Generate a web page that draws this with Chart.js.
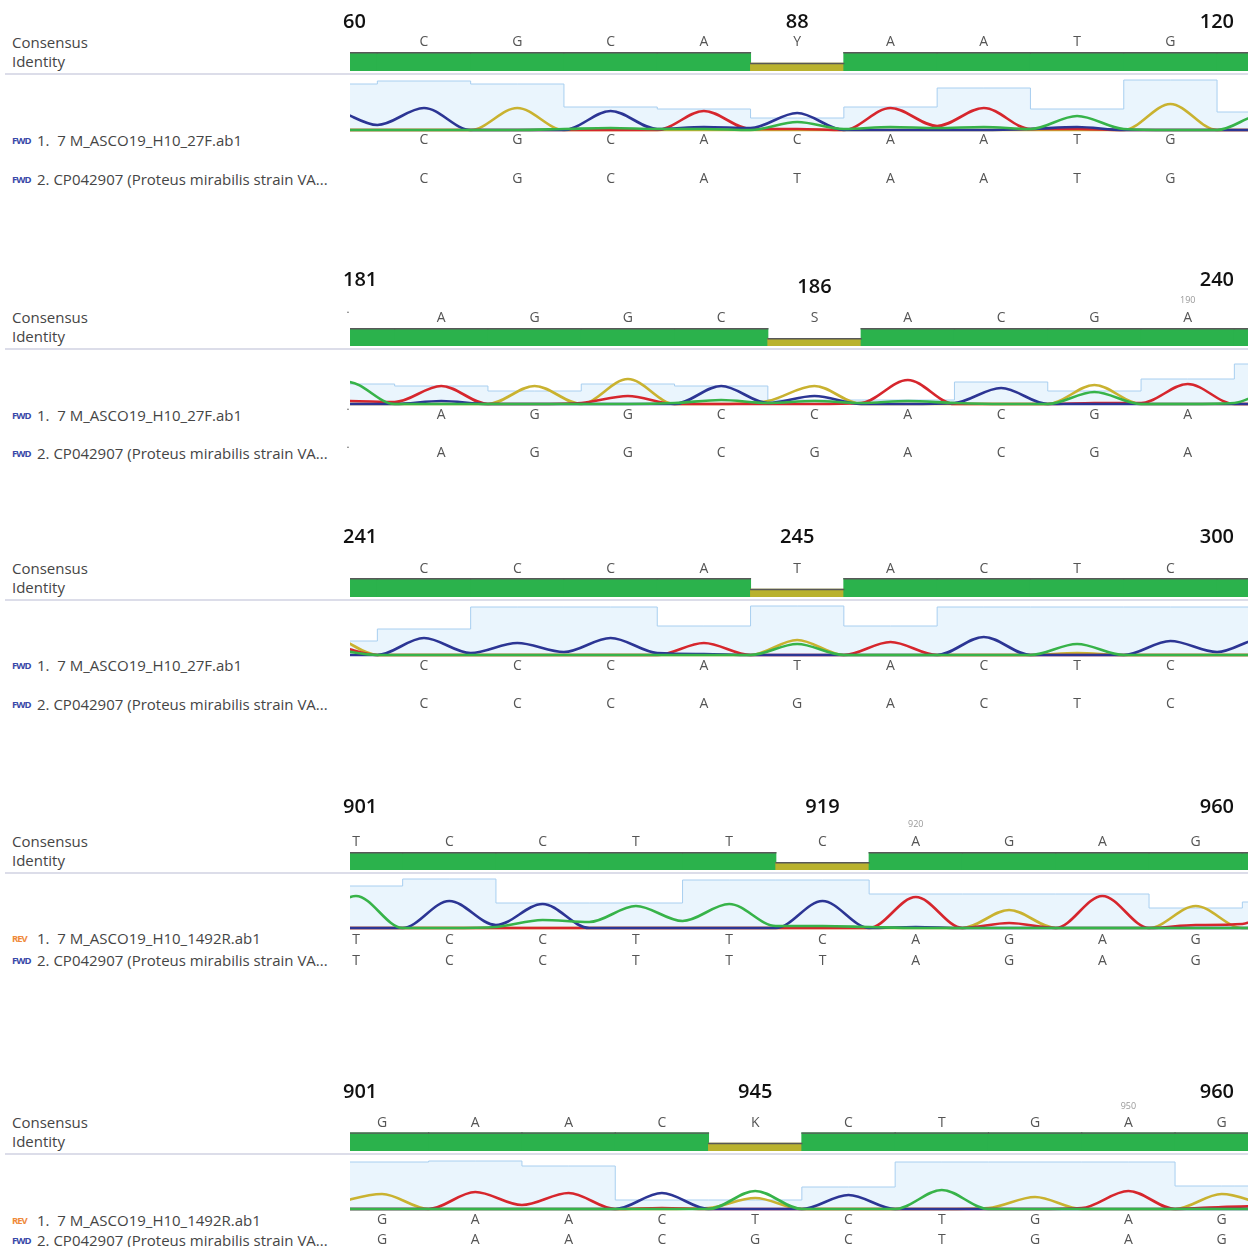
<!DOCTYPE html>
<html><head><meta charset="utf-8">
<script src="https://cdn.jsdelivr.net/npm/chart.js@4/dist/chart.umd.min.js"></script>
<style>
html,body{margin:0;padding:0;background:#fff;}
body{width:1248px;height:1247px;position:relative;overflow:hidden;font-family:"Open Sans",sans-serif;}
.lbl{position:absolute;left:12px;font-size:15px;color:#454545;line-height:20px;white-space:pre;}
.tag{display:inline-block;font-size:9.5px;font-weight:700;letter-spacing:-1px;width:25px;vertical-align:2px;}
.fwd{color:#3848a8;}
.rev{color:#ef8a3a;}
.sep{position:absolute;left:5px;width:1243px;height:2px;background:#dcdde9;}
</style></head><body>
<script>
// ---------- DATA ----------
const readNames = ['7 M_ASCO19_H10_27F.ab1','7 M_ASCO19_H10_27F.ab1','7 M_ASCO19_H10_27F.ab1','7 M_ASCO19_H10_1492R.ab1','7 M_ASCO19_H10_1492R.ab1'];
const readDirs = ['FWD','FWD','FWD','REV','REV'];
const refName = 'CP042907 (Proteus mirabilis strain VA...';

// panel 1
const p1Header = ['60','88','120'];
const p1Consensus = ['','C','G','C','A','Y','A','A','T','G',''];
const p1Read      = ['','C','G','C','A','C','A','A','T','G',''];
const p1Ref       = ['','C','G','C','A','T','A','A','T','G',''];
const p1Identity  = [1,1,1,1,1,0.44,1,1,1,1,1];
const p1Quality   = [46,49,46,23,21,12,23,42,21,50,18];
const p1TraceA = [0,0,0,0,0,0,0,0,0,19,1,1,0,22,4,22,1,1,0,0,0,0,0];
const p1TraceC = [0,20,5,22,0,0,0,19,1,3,2,17,0,0,0,0,1,3,0,0,0,0,0];
const p1TraceG = [0,0,0,0,0,22,0,0,0,0,0,0,0,0,0,0,0,0,0,26,0,0,0];
const p1TraceT = [0,0,0,0,0,0,1,2,1,1,0,8,1,3,2,3,1,14,1,0,0,16,0];

// panel 2
const p2Header = ['181','186','240'];
const p2Consensus = ['˙','A','G','G','C','S','A','C','G','A',''];
const p2Read      = ['˙','A','G','G','C','C','A','C','G','A',''];
const p2Ref       = ['˙','A','G','G','C','G','A','C','G','A',''];
const p2Identity  = [1,1,1,1,1,0.44,1,1,1,1,1];
const p2Quality   = [20,18,13,20,18,4,4,22,13,25,40];
const p2TraceA = [0,3,2,18,0,0,1,8,0,0,0,0,1,24,0,0,0,1,1,20,0,0,0];
const p2TraceC = [0,0,0,3,0,0,0,0,0,18,1,8,0,0,1,16,0,0,0,0,0,0,0];
const p2TraceG = [0,0,0,0,0,18,0,25,0,0,3,18,0,0,0,0,0,19,0,0,0,0,0];
const p2TraceT = [0,22,0,0,0,0,0,0,1,4,1,3,1,3,1,0,0,12,0,0,1,18,0];
const p2Mark = ['190', 9];

// panel 3
const p3Header = ['241','245','300'];
const p3Consensus = ['','C','C','C','A','T','A','C','T','C',''];
const p3Read      = ['','C','C','C','A','T','A','C','T','C',''];
const p3Ref       = ['','C','C','C','A','G','A','C','T','C',''];
const p3Identity  = [1,1,1,1,1,0.44,1,1,1,1,1];
const p3Quality   = [14,26,48,48,29,49,29,48,48,48,48];
const p3TraceA = [0,9,0,0,0,0,0,0,0,12,0,0,0,13,0,0,0,0,0,0,0,0,0];
const p3TraceC = [0,0,0,17,2,12,3,17,2,1,0,0,0,0,0,18,0,0,0,14,3,17,0];
const p3TraceG = [0,18,0,0,0,0,0,0,0,0,0,15,0,0,0,0,0,2,0,0,0,0,0];
const p3TraceT = [0,5,0,0,0,0,0,0,0,0,0,11,0,0,0,0,0,11,0,0,0,0,0];

// panel 4
const p4Header = ['901','919','960'];
const p4Consensus = ['T','C','C','T','T','C','A','G','A','G',''];
const p4Read      = ['T','C','C','T','T','C','A','G','A','G',''];
const p4Ref       = ['T','C','C','T','T','T','A','G','A','G',''];
const p4Identity  = [1,1,1,1,1,0.44,1,1,1,1,1];
const p4Quality   = [42,49,25,25,48,48,34,34,34,20,26];
const p4TraceA = [0,0,0,0,0,0,0,0,0,0,0,0,0,31,0,5,0,32,0,3,4,30,0];
const p4TraceC = [0,0,0,27,3,24,0,0,0,0,0,27,0,1,0,0,0,0,0,0,0,0,0];
const p4TraceG = [0,0,0,0,0,0,0,0,0,0,0,0,0,0,0,18,0,0,0,22,0,0,0];
const p4TraceT = [0,32,0,0,1,8,6,22,7,24,2,2,1,0,0,0,0,0,0,0,0,0,0];
const p4Mark = ['920', 6];

// panel 5
const p5Header = ['901','945','960'];
const p5Consensus = ['G','A','A','C','K','C','T','G','A','G'];
const p5Read      = ['G','A','A','C','T','C','T','G','A','G'];
const p5Ref       = ['G','A','A','C','G','C','T','G','A','G'];
const p5Identity  = [1,1,1,1,0.44,1,1,1,1,1];
const p5Quality   = [47,48,43,9,9,22,47,47,47,23];
const p5TraceA = [0,0,0,17,4,16,0,1,0,0,0,0,0,0,0,0,1,18,0,2,3];
const p5TraceC = [0,0,0,0,0,0,0,16,0,0,0,14,0,0,0,0,0,0,0,0,0];
const p5TraceG = [6,15,0,0,0,0,0,0,1,11,0,0,0,0,1,12,0,0,0,15,3];
const p5TraceT = [0,0,0,0,0,0,0,0,0,18,0,0,0,19,0,0,0,0,0,0,0];
const p5Mark = ['950', 8];

// ---------- LAYOUT ----------
const COL_W = 93.3, PLOT_L = 350, PLOT_R = 1248, CANVAS_L = 330;
const TRACE_H = 56, BASE_PAD = 1.5, EDGE_PX = 1.5;
const traceColors = {A:'#d6262d', C:'#2c3594', G:'#c9b230', T:'#37b349'};
const FONT = '"Open Sans", sans-serif';

const panels = [
 {header:p1Header, midCol:5, cons:p1Consensus, read:p1Read, ref:p1Ref, ident:p1Identity, qual:p1Quality,
  tr:{A:p1TraceA,C:p1TraceC,G:p1TraceG,T:p1TraceT}, mark:null,
  L:{col0X:330.7, headerY:22, midY:22, markY:0, consY:42, idTop:52, idBot:71, sepY:73, base:130, readY:140, refY:179, consLblY:42, idLblY:61, readLblY:140, refLblY:179}},
 {header:p2Header, midCol:5, cons:p2Consensus, read:p2Read, ref:p2Ref, ident:p2Identity, qual:p2Quality,
  tr:{A:p2TraceA,C:p2TraceC,G:p2TraceG,T:p2TraceT}, mark:p2Mark,
  L:{col0X:348, headerY:280, midY:287, markY:300, consY:318, idTop:328, idBot:346, sepY:348, base:404.3, readY:415, refY:453.5, consLblY:317, idLblY:336, readLblY:415, refLblY:453}},
 {header:p3Header, midCol:5, cons:p3Consensus, read:p3Read, ref:p3Ref, ident:p3Identity, qual:p3Quality,
  tr:{A:p3TraceA,C:p3TraceC,G:p3TraceG,T:p3TraceT}, mark:null,
  L:{col0X:330.7, headerY:537, midY:537, markY:0, consY:569, idTop:578, idBot:597, sepY:599, base:655, readY:666, refY:704, consLblY:568, idLblY:587, readLblY:665, refLblY:704}},
 {header:p4Header, midCol:5, cons:p4Consensus, read:p4Read, ref:p4Ref, ident:p4Identity, qual:p4Quality,
  tr:{A:p4TraceA,C:p4TraceC,G:p4TraceG,T:p4TraceT}, mark:p4Mark,
  L:{col0X:356, headerY:807, midY:807, markY:824, consY:842, idTop:852, idBot:870, sepY:872, base:928.3, readY:940, refY:961.5, consLblY:841, idLblY:860, readLblY:938, refLblY:960}},
 {header:p5Header, midCol:4, cons:p5Consensus, read:p5Read, ref:p5Ref, ident:p5Identity, qual:p5Quality,
  tr:{A:p5TraceA,C:p5TraceC,G:p5TraceG,T:p5TraceT}, mark:p5Mark,
  L:{col0X:382, headerY:1092, midY:1092, markY:1106, consY:1123, idTop:1132.3, idBot:1151, sepY:1153, base:1209.3, readY:1220, refY:1240, consLblY:1122, idLblY:1141, readLblY:1220, refLblY:1240}}
];

function makeCanvas(left, top, w, h){
  const c = document.createElement('canvas');
  c.width = w; c.height = h;
  c.style.cssText = `position:absolute;left:${left}px;top:${top}px;width:${w}px;height:${h}px;`;
  document.body.appendChild(c);
  return c;
}
function addLabel(html, y){
  const d = document.createElement('div');
  d.className = 'lbl';
  d.style.top = (y - 10) + 'px';
  d.innerHTML = html;
  document.body.appendChild(d);
}
const baseOpts = {responsive:false, animation:false, events:[], devicePixelRatio:1,
  plugins:{legend:{display:false}, tooltip:{enabled:false}}};

panels.forEach((p, pi) => {
  const L = p.L;
  const xr = {min:(PLOT_L - L.col0X)/COL_W, max:(PLOT_R - L.col0X)/COL_W};

  // left labels
  addLabel('Consensus', L.consLblY);
  addLabel('Identity', L.idLblY);
  const dir = readDirs[pi];
  addLabel(`<span class="tag ${dir==='FWD'?'fwd':'rev'}">${dir}</span>1.  ${readNames[pi]}`, L.readLblY);
  addLabel(`<span class="tag fwd">FWD</span>2. ${refName}`, L.refLblY);
  const sep = document.createElement('div');
  sep.className = 'sep'; sep.style.top = (L.sepY) + 'px';
  document.body.appendChild(sep);

  // identity chart (with header numbers + consensus letters)
  const idTopC = L.headerY - 16;
  const idCanH = Math.ceil(L.idBot - idTopC);
  const edge = EDGE_PX / (L.idBot - L.idTop);   // top-edge thickness in value units
  const idCan = makeCanvas(CANVAS_L, idTopC, PLOT_R - CANVAS_L, idCanH);
  new Chart(idCan, {
    type:'bar',
    data:{datasets:[
      {data:p.ident.map((v,i)=>({x:i, y:[v - edge, v]})),
       backgroundColor:'#585858', borderWidth:0, grouped:false,
       barThickness:COL_W + 1, inflateAmount:0, clip:0, order:1},
      {data:p.ident.map((v,i)=>({x:i, y:v})),
       backgroundColor:p.ident.map(v => v >= 1 ? '#2bb24c' : '#b9b22e'),
       borderWidth:0, grouped:false,
       barThickness:COL_W + 1, inflateAmount:0, clip:0, order:2}
    ]},
    options:Object.assign({}, baseOpts, {
      layout:{padding:{left:PLOT_L - CANVAS_L, top:L.idTop - idTopC, right:0, bottom:idCanH - (L.idBot - idTopC)}},
      scales:{x:{type:'linear', min:xr.min, max:xr.max, offset:false, display:false},
              y:{min:0, max:1, display:false}}
    }),
    plugins:[{id:'consText', afterDraw(chart){
      const ctx = chart.ctx, xs = chart.scales.x, ca = chart.chartArea;
      ctx.save();
      ctx.textBaseline = 'middle';
      ctx.fillStyle = '#111';
      ctx.font = `600 20px ${FONT}`;
      ctx.textAlign = 'left';  ctx.fillText(p.header[0], ca.left - 7, L.headerY - idTopC);
      ctx.textAlign = 'center'; ctx.fillText(p.header[1], xs.getPixelForValue(p.midCol), L.midY - idTopC);
      ctx.textAlign = 'right'; ctx.fillText(p.header[2], ca.right - 14, L.headerY - idTopC);
      ctx.font = `14px ${FONT}`;
      ctx.fillStyle = '#555';
      ctx.textAlign = 'center';
      p.cons.forEach((s,i) => { if (s) ctx.fillText(s, xs.getPixelForValue(i), L.consY - idTopC); });
      if (p.mark){
        ctx.font = `9px ${FONT}`;
        ctx.fillStyle = '#999';
        ctx.fillText(p.mark[0], xs.getPixelForValue(p.mark[1]), L.markY - idTopC);
      }
      ctx.restore();
    }}]
  });

  // trace chart (quality histogram + chromatogram + read/ref letters)
  const trTop = L.base - TRACE_H;
  const trH = Math.ceil(L.refY + 14 - trTop);
  const trCan = makeCanvas(CANVAS_L, trTop, PLOT_R - CANVAS_L, trH);
  const q = p.qual.map((v,i)=>({x:i, y:v}));
  if (q[0].x > xr.min) q.unshift({x:xr.min, y:q[0].y});
  if (q[q.length-1].x < xr.max) q.push({x:xr.max, y:q[q.length-1].y});
  const traceDs = (ch, order) => ({
    data:p.tr[ch].map((v,k)=>({x:k*0.5 - 0.5, y:v})),
    borderColor:traceColors[ch], borderWidth:2.6, pointRadius:0,
    cubicInterpolationMode:'monotone', fill:false, yAxisID:'yT', order,
    clip:{left:0, right:0, top:3, bottom:3}
  });
  new Chart(trCan, {
    type:'line',
    data:{datasets:[
      traceDs('T', 1), traceDs('C', 2), traceDs('A', 3), traceDs('G', 4),
      {data:q, stepped:'middle', fill:'origin', backgroundColor:'#eaf5fd', borderColor:'#a8cff0',
       borderWidth:1, pointRadius:0, yAxisID:'yQ', order:10, clip:0}
    ]},
    options:Object.assign({}, baseOpts, {
      layout:{padding:{left:PLOT_L - CANVAS_L, top:0, right:0, bottom:trH - (TRACE_H + BASE_PAD)}},
      scales:{x:{type:'linear', min:xr.min, max:xr.max, offset:false, display:false},
              yQ:{min:-BASE_PAD, max:TRACE_H, display:false},
              yT:{min:-BASE_PAD, max:TRACE_H, display:false}}
    }),
    plugins:[{id:'readText', afterDraw(chart){
      const ctx = chart.ctx, xs = chart.scales.x;
      ctx.save();
      ctx.textBaseline = 'middle'; ctx.textAlign = 'center';
      ctx.font = `14px ${FONT}`; ctx.fillStyle = '#555';
      p.read.forEach((s,i) => { if (s) ctx.fillText(s, xs.getPixelForValue(i), L.readY - trTop); });
      p.ref.forEach((s,i) => { if (s) ctx.fillText(s, xs.getPixelForValue(i), L.refY - trTop); });
      ctx.restore();
    }}]
  });
});
</script>
</body></html>
